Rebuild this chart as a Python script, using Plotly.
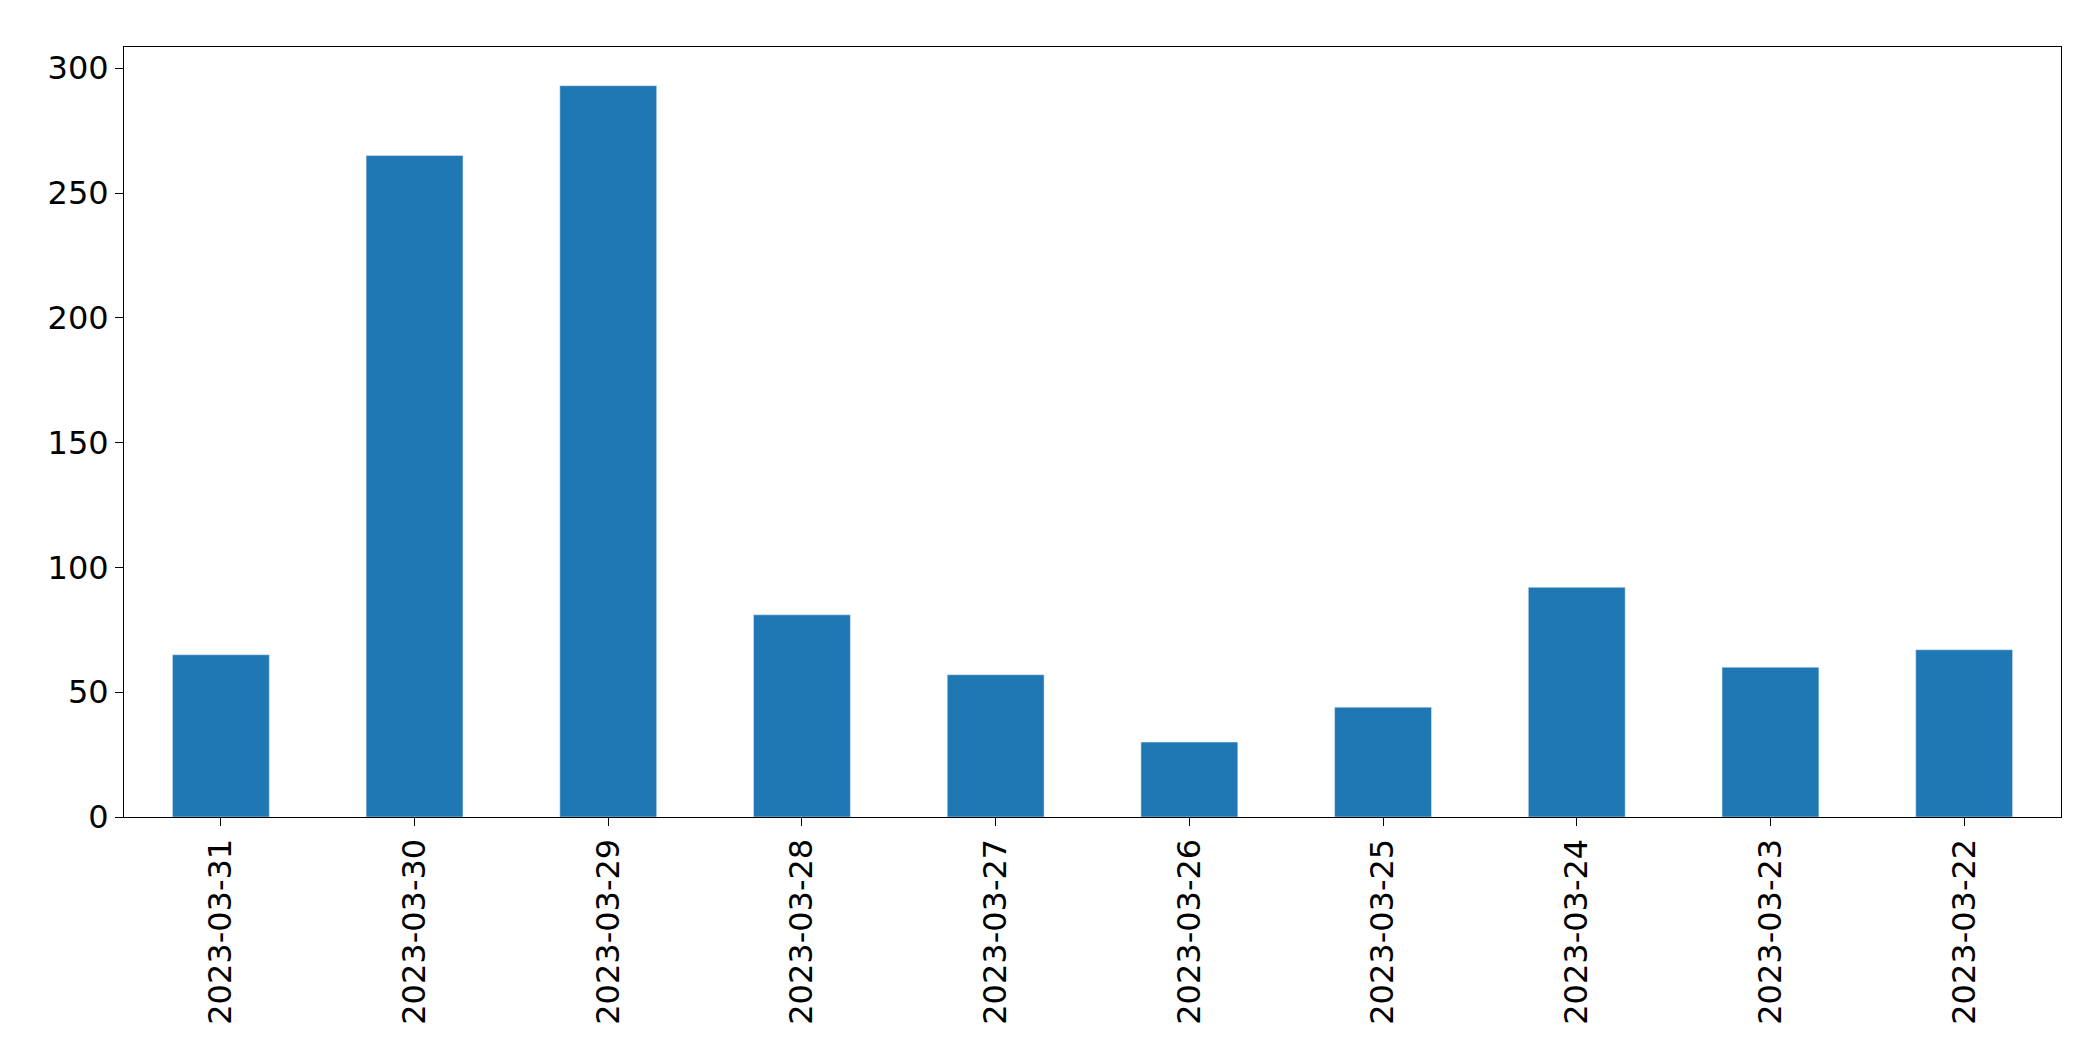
import plotly.graph_objects as go

dates = ["2023-03-31","2023-03-30","2023-03-29","2023-03-28","2023-03-27",
         "2023-03-26","2023-03-25","2023-03-24","2023-03-23","2023-03-22"]
counts = [65, 265, 293, 81, 57, 30, 44, 92, 60, 67]

fig = go.Figure(go.Bar(x=dates, y=counts, marker_color="#1f77b4", width=0.5))
fig.update_layout(
    width=2093, height=1061, plot_bgcolor="white", paper_bgcolor="white",
    margin=dict(l=116, r=40, t=39, b=252), showlegend=False,
    font=dict(family="DejaVu Sans", size=32, color="black"),
)
fig.update_xaxes(type="category", tickangle=-90, showline=True, linecolor="black",
                 mirror=True, ticks="outside", ticklen=8, tickcolor="black")
fig.update_yaxes(range=[0, 308.5], tickvals=[0,50,100,150,200,250,300], showgrid=False,
                 showline=True, linecolor="black", mirror=True, ticks="outside",
                 ticklen=8, tickcolor="black", zeroline=False)
fig.write_html("out.html")
